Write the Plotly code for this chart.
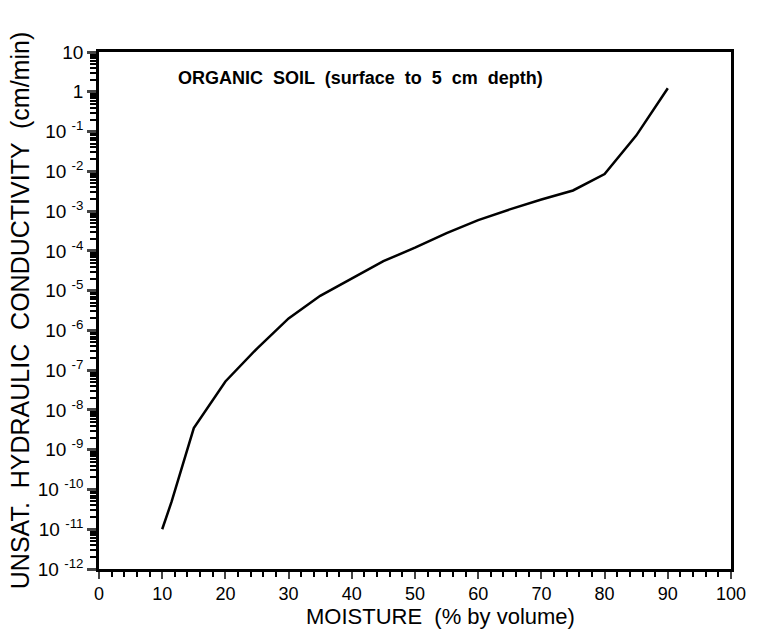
import plotly.graph_objects as go

moisture = [10, 11.5, 15, 20, 25, 30, 35, 40, 45, 50, 55, 60, 65, 70, 75, 80, 85, 90]
conductivity = [1.0e-11, 5.0e-11, 3.5e-9, 5.2e-8, 3.5e-7, 2.0e-6, 7.4e-6, 2.0e-5,
                5.5e-5, 1.2e-4, 2.8e-4, 5.9e-4, 1.1e-3, 1.95e-3, 3.3e-3, 8.5e-3,
                7.9e-2, 1.23]

x_ticks = list(range(0, 101, 10))
y_exponents = list(range(1, -13, -1))
y_tickvals = [10.0 ** e for e in y_exponents]
y_ticktext = ["10", "1"] + ["10 <sup>%d</sup>" % e for e in y_exponents[2:]]
y_minor = [k * 10.0 ** e for e in range(-12, 1) for k in range(2, 10)]

font_family = "Liberation Sans, Arial, sans-serif"

fig = go.Figure()
fig.add_trace(go.Scatter(x=moisture, y=conductivity, mode="lines",
                         line=dict(color="black", width=2.5), showlegend=False))

fig.update_layout(
    width=758, height=635,
    margin=dict(l=99, r=20, t=52, b=66),
    paper_bgcolor="white", plot_bgcolor="white",
    font=dict(family=font_family, color="black"),
    xaxis=dict(
        range=[0, 100], tickvals=x_ticks, ticks="outside", ticklen=7, tickwidth=2,
        showline=True, linecolor="black", linewidth=2.5, mirror=True,
        showgrid=False, zeroline=False, tickfont=dict(size=18),
        minor=dict(dtick=2, ticks="outside", ticklen=5, tickwidth=2, tickcolor="black", showgrid=False),
    ),
    yaxis=dict(
        type="log", range=[-12, 1], tickvals=y_tickvals, ticktext=y_ticktext,
        ticks="outside", ticklen=9, tickwidth=2.5,
        showline=True, linecolor="black", linewidth=2.5, mirror=True,
        showgrid=False, zeroline=False, tickfont=dict(size=19),
        minor=dict(tickvals=y_minor, ticks="outside", ticklen=6, tickwidth=2, tickcolor="black", showgrid=False),
        title=dict(text="UNSAT.  HYDRAULIC  CONDUCTIVITY  (cm/min)", font=dict(size=25), standoff=2),
    ),
    annotations=[
        dict(x=0.122, y=0.95, xref="paper", yref="paper", xanchor="left", yanchor="middle",
             text="<b>ORGANIC  SOIL  (surface  to  5  cm  depth)</b>", showarrow=False,
             font=dict(size=18, family=font_family, color="black")),
        dict(x=0.54, y=-0.091, xref="paper", yref="paper", xanchor="center", yanchor="middle",
             text="MOISTURE  (% by volume)", showarrow=False,
             font=dict(size=22, family=font_family, color="black")),
    ],
)

fig.write_html("out.html")
